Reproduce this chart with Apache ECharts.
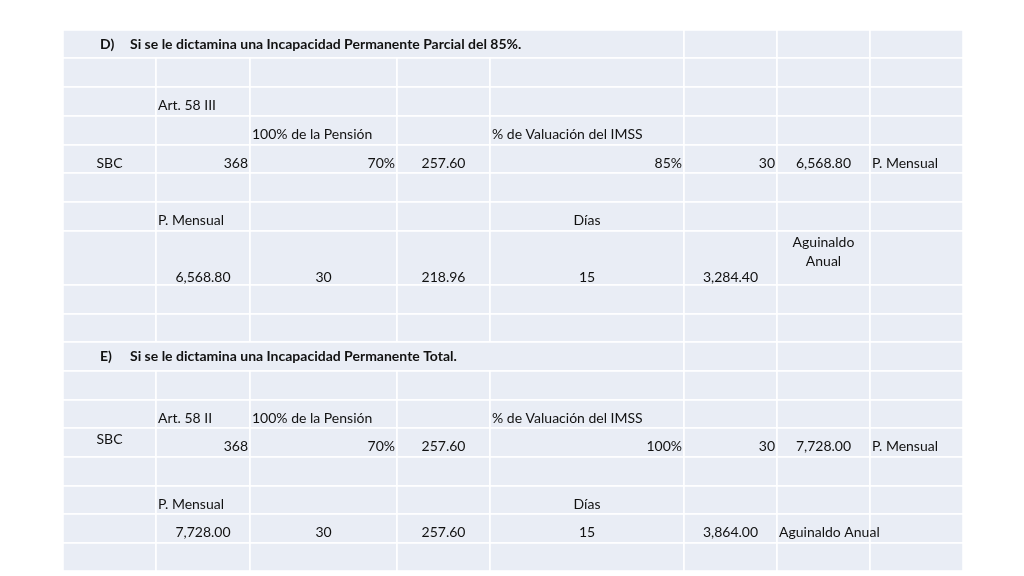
<!DOCTYPE html>
<html>
<head>
<meta charset="utf-8">
<script src="https://cdn.jsdelivr.net/npm/echarts@6/dist/echarts.min.js"></script>
<style>html,body{margin:0;background:#fff}#main{width:1024px;height:576px}</style>
</head>
<body>
<div id="main"></div>
<script>
// column edges and row heights of the table (table units)
var colEdges = [0, 93, 187, 334, 427, 621, 714, 807, 900];
var rowHeights = [28, 29, 29, 29, 28, 29, 29, 54, 29, 28, 29, 29, 28, 29, 29, 28, 29, 28];
// merged title rows: [row, firstCol, lastCol]
var merges = [[0, 0, 4], [10, 0, 4]];
// texts: [row, col, text, align, valign, bold]
var texts = [
  [0, 0, '{n|D)}Si se le dictamina una Incapacidad Permanente Parcial del 85%.', 'h', 'm', true],
  [2, 1, 'Art. 58 III', 'l', 'm'],
  [3, 2, '100% de la Pensión', 'l', 'm'],
  [3, 4, '% de Valuación del IMSS', 'l', 'm'],
  [4, 0, 'SBC', 'c', 'm'],
  [4, 1, '368', 'r', 'b'],
  [4, 2, '70%', 'r', 'b'],
  [4, 3, '257.60', 'c', 'b'],
  [4, 4, '85%', 'r', 'b'],
  [4, 5, '30', 'r', 'b'],
  [4, 6, '6,568.80', 'c', 'b'],
  [4, 7, 'P. Mensual', 'l', 'b'],
  [6, 1, 'P. Mensual', 'l', 'm'],
  [6, 4, 'Días', 'c', 'm'],
  [7, 1, '6,568.80', 'c', 'b'],
  [7, 2, '30', 'c', 'b'],
  [7, 3, '218.96', 'c', 'b'],
  [7, 4, '15', 'c', 'b'],
  [7, 5, '3,284.40', 'c', 'b'],
  [7, 6, 'Aguinaldo\nAnual', 'c', 't'],
  [10, 0, '{n|E)}Si se le dictamina una Incapacidad Permanente Total.', 'h', 'm', true],
  [12, 1, 'Art. 58 II', 'l', 'm'],
  [12, 2, '100% de la Pensión', 'l', 'm'],
  [12, 4, '% de Valuación del IMSS', 'l', 'm'],
  [13, 0, 'SBC', 'c', 't'],
  [13, 1, '368', 'r', 'b'],
  [13, 2, '70%', 'r', 'b'],
  [13, 3, '257.60', 'c', 'b'],
  [13, 4, '100%', 'r', 'b'],
  [13, 5, '30', 'r', 'b'],
  [13, 6, '7,728.00', 'c', 'b'],
  [13, 7, 'P. Mensual', 'l', 'b'],
  [15, 1, 'P. Mensual', 'l', 'm'],
  [15, 4, 'Días', 'c', 'm'],
  [16, 1, '7,728.00', 'c', 'm'],
  [16, 2, '30', 'c', 'm'],
  [16, 3, '257.60', 'c', 'm'],
  [16, 4, '15', 'c', 'm'],
  [16, 5, '3,864.00', 'c', 'm'],
  [16, 6, 'Aguinaldo Anual', 'l', 'm']
];

var rowEdges = [0];
rowHeights.forEach(function (h) { rowEdges.push(rowEdges[rowEdges.length - 1] + h); });
var total = rowEdges[rowEdges.length - 1];

var cells = [];
for (var r = 0; r < rowHeights.length; r++) {
  var m = merges.filter(function (x) { return x[0] === r; })[0];
  for (var c = 0; c < colEdges.length - 1; c++) {
    if (m && c >= m[1] && c <= m[2]) {
      if (c === m[1]) cells.push([colEdges[m[1]], colEdges[m[2] + 1], rowEdges[r], rowEdges[r + 1]]);
      continue;
    }
    cells.push([colEdges[c], colEdges[c + 1], rowEdges[r], rowEdges[r + 1]]);
  }
}

var textData = texts.map(function (t) {
  var c1 = t[1] + 1;
  merges.forEach(function (m) { if (m[0] === t[0] && m[1] === t[1]) c1 = m[2] + 1; });
  return [colEdges[t[1]], colEdges[c1], rowEdges[t[0]], rowEdges[t[0] + 1], t[2], t[3], t[4], t[5] ? 1 : 0];
});

var chart = echarts.init(document.getElementById('main'));
chart.setOption({
  animation: false,
  grid: { left: 63, right: 61, top: 30, bottom: 5 },
  xAxis: { type: 'value', min: 0, max: 900, show: false },
  yAxis: { type: 'value', min: 0, max: total, inverse: true, show: false },
  series: [{
    type: 'custom',
    data: cells,
    renderItem: function (params, api) {
      var p0 = api.coord([api.value(0), api.value(2)]);
      var p1 = api.coord([api.value(1), api.value(3)]);
      return {
        type: 'rect',
        shape: { x: p0[0], y: p0[1], width: p1[0] - p0[0], height: p1[1] - p0[1] },
        style: { fill: '#e9edf5', stroke: '#ffffff', lineWidth: 1.5 }
      };
    }
  }, {
    type: 'custom',
    data: textData,
    renderItem: function (params, api) {
      var d = textData[params.dataIndex];
      var p0 = api.coord([d[0], d[2]]);
      var p1 = api.coord([d[1], d[3]]);
      var al = d[5], va = d[6];
      var x, align = 'left';
      if (al === 'l') { x = p0[0] + 2; }
      else if (al === 'h') { x = p0[0] + 37; }
      else if (al === 'r') { x = p1[0] - 2; align = 'right'; }
      else { x = (p0[0] + p1[0]) / 2; align = 'center'; }
      var h = p1[1] - p0[1];
      var y, vAlign = 'middle';
      if (va === 't') { y = p0[1] + 2; vAlign = 'top'; }
      else if (va === 'b') { y = h > 40 ? p1[1] - 8 : (p0[1] + p1[1]) / 2 + 4; }
      else { y = (p0[1] + p1[1]) / 2 + (d[7] ? 0 : 4); }
      return {
        type: 'text',
        style: {
          x: x, y: y, text: d[4], align: align, verticalAlign: vAlign,
          fill: '#111', font: (d[7] ? 'bold ' : '') + '14px Lato', lineHeight: 19,
          rich: { n: { width: 30, font: 'bold 14px Lato', fill: '#111' } }
        }
      };
    }
  }]
});
</script>
</body>
</html>
